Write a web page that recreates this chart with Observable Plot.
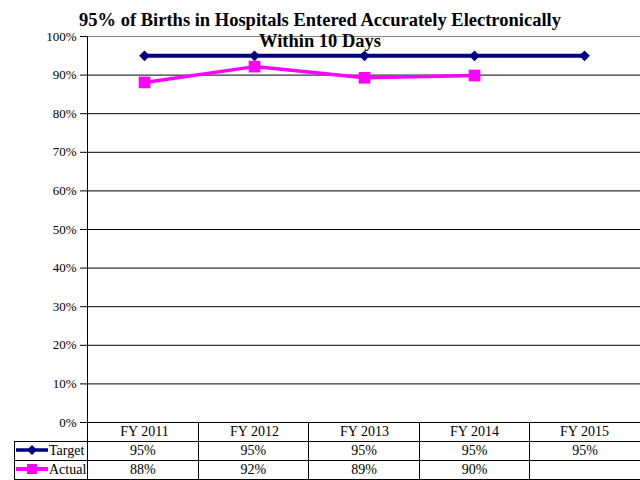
<!DOCTYPE html>
<html><head><meta charset="utf-8">
<script src="https://cdn.jsdelivr.net/npm/d3@7"></script>
<script src="https://cdn.jsdelivr.net/npm/@observablehq/plot@0.6"></script>
<style>
body{margin:0;background:#fff;}
#wrap{position:relative;width:640px;height:480px;overflow:hidden;font-family:"Liberation Serif","Times New Roman",serif;}
#chart{position:absolute;left:0;top:0;}
#chart svg text{font-family:"Liberation Serif","Times New Roman",serif !important;}
#title{position:absolute;left:0;top:10px;width:640px;text-align:center;font-weight:bold;font-size:18.5px;line-height:21px;z-index:2;color:#000;font-family:"Liberation Serif","Times New Roman",serif;}
#tbl{position:absolute;left:14px;top:422px;border-collapse:collapse;table-layout:fixed;font-size:14px;color:#000;font-family:"Liberation Serif","Times New Roman",serif;}
#tbl td{height:18px;padding:0;text-align:center;border:1px solid #000;white-space:nowrap;font-family:"Liberation Serif","Times New Roman",serif;line-height:18px;}
#tbl td.lg{text-align:left;}
#tbl td.lg svg{vertical-align:-1px;}
</style></head>
<body>
<div id="wrap">
  <div id="chart"></div>
  <div id="title">95% of Births in Hospitals Entered Accurately Electronically<br>Within 10 Days</div>
  <table id="tbl"></table>
</div>
<script>
const categories = ["FY 2011", "FY 2012", "FY 2013", "FY 2014", "FY 2015"];
const targetValues = [0.95, 0.95, 0.95, 0.95, 0.95];
const actualValues = [0.881, 0.922, 0.893, 0.899];
const targetLabels = ["95%", "95%", "95%", "95%", "95%"];
const actualLabels = ["88%", "92%", "89%", "90%", ""];
const yTicks = [0, 0.1, 0.2, 0.3, 0.4, 0.5, 0.6, 0.7, 0.8, 0.9, 1.0];

const targetData = targetValues.map((v, i) => ({cat: categories[i], v}));
const actualData = actualValues.map((v, i) => ({cat: categories[i], v}));

const navy = "#000080", magenta = "#ff00ff";

const plot = Plot.plot({
  width: 640,
  height: 441,
  marginTop: 36,
  marginBottom: 19,
  marginLeft: 87,
  marginRight: 0,
  style: {fontSize: "13px", color: "#000", background: "transparent", overflow: "visible"},
  x: {type: "point", domain: categories, padding: 0.5, align: 0.5},
  y: {domain: [0, 1]},
  marks: [
    Plot.ruleY(yTicks.filter(d => d < 1), {stroke: "#000", strokeWidth: 1}),
    Plot.ruleY([1], {stroke: "#888", strokeWidth: 1}),
    Plot.frame({anchor: "left", stroke: "#000", strokeOpacity: 1}),
    Plot.axisY({ticks: yTicks, tickFormat: d3.format(".0%"), tickSize: 7, tickPadding: 4, label: null, stroke: "#000"}),
    Plot.axisX({tickSize: 0, tickPadding: 4, label: null, fontSize: 14}),
    Plot.line(targetData, {x: "cat", y: "v", stroke: navy, strokeWidth: 4}),
    Plot.dot(targetData, {x: "cat", y: "v", symbol: "diamond2", r: 4.8, fill: navy, stroke: "none"}),
    Plot.line(actualData, {x: "cat", y: "v", stroke: magenta, strokeWidth: 3.5}),
    Plot.dot(actualData, {x: "cat", y: "v", symbol: "square", r: 6.6, fill: magenta, stroke: "none"})
  ]
});
document.getElementById("chart").appendChild(plot);

// data table below the chart
const tbl = document.getElementById("tbl");
const colW = (640 - 87) / categories.length;
let html = `<colgroup><col style="width:73px">${categories.map(() => `<col style="width:${colW}px">`).join("")}</colgroup>`;
html += `<tr><td style="border-left:none;border-top:none;"></td>${categories.map(() => `<td></td>`).join("")}</tr>`;
const legendIcon = (color, shape) => `<svg width="34" height="12" viewBox="0 0 34 12"><line x1="1" y1="6" x2="33" y2="6" stroke="${color}" stroke-width="${shape === 'd' ? 3.5 : 4}"/>` +
  (shape === 'd' ? `<path d="M17 1 L22 6 L17 11 L12 6 Z" fill="${color}"/>` : `<rect x="12" y="1" width="10" height="10" fill="${color}"/>`) + `</svg>`;
html += `<tr><td class="lg">${legendIcon(navy, 'd')}Target</td>${targetLabels.map(t => `<td>${t}</td>`).join("")}</tr>`;
html += `<tr><td class="lg">${legendIcon(magenta, 's')}Actual</td>${actualLabels.map(t => `<td>${t}</td>`).join("")}</tr>`;
tbl.innerHTML = html;
tbl.style.width = (640 - 14 + 1) + "px";
</script>
</body></html>
